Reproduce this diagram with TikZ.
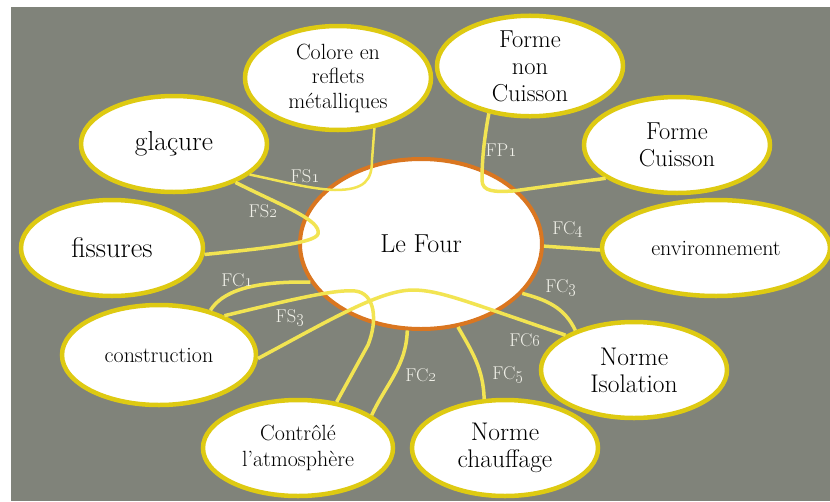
\documentclass[tikz,border=0pt]{standalone}
\usepackage{tikz}
\usetikzlibrary{shapes.geometric, positioning, calc}

\definecolor{bggray}{RGB}{128,131,122}
\definecolor{rimyellow}{RGB}{222,202,18}
\definecolor{linkyellow}{RGB}{242,228,82}
\definecolor{rimorange}{RGB}{218,118,32}
\definecolor{lblwhite}{RGB}{240,240,232}

\tikzset{
	bubble/.style={ellipse, draw=rimyellow, line width=4.5pt, fill=white, inner sep=0pt,
		minimum width=186pt, minimum height=96pt, align=center, text=black},
	link/.style={draw=linkyellow, line width=3.5pt},
	lbl/.style={text=lblwhite, inner sep=0pt, font=\fontsize{18.5}{20}\selectfont}
}

\begin{document}
\begin{tikzpicture}[x=1pt,y=-1pt]
	\useasboundingbox (0,0) rectangle (830,501);
	\fill[white] (0,0) rectangle (830,501);
	\fill[bggray] (11,7) rectangle (830,501);
	
	\node[ellipse, draw=rimorange, line width=4pt, fill=white, minimum width=242pt, minimum height=170pt,
		font=\fontsize{26}{30}\selectfont] (four) at (421,244) {Le Four};
	
	\node[bubble, minimum height=104pt, font=\fontsize{22}{24.5}\selectfont] (colore) at (338,78) {Colore en\\reflets\\métalliques};
	\node[bubble, font=\fontsize{24.5}{27}\selectfont] (formenon) at (530,66) {Forme\\non\\Cuisson};
	\node[bubble, font=\fontsize{24.5}{27}\selectfont] (formecuisson) at (677,145) {Forme\\Cuisson};
	\node[bubble, minimum width=228pt, font=\fontsize{22}{24}\selectfont] (env) at (716,248) {environnement};
	\node[bubble, font=\fontsize{25.5}{27}\selectfont] (isolation) at (634,370) {Norme\\Isolation};
	\node[bubble, font=\fontsize{25.5}{27}\selectfont] (chauffage) at (505,448) {Norme\\chauffage};
	\node[bubble, minimum width=190pt, font=\fontsize{22}{26}\selectfont] (controle) at (298,448) {Contrôlé\\l’atmosphère};
	\node[bubble, minimum width=194pt, minimum height=100pt, font=\fontsize{22}{24}\selectfont] (construction) at (159,355) {construction};
	\node[bubble, minimum width=182pt, font=\fontsize{28.5}{30}\selectfont] (fissures) at (112,248) {fissures};
	\node[bubble, font=\fontsize{27.5}{30}\selectfont] (glacure) at (174,144) {glaçure};
	
	% liaisons
	\draw[link, line width=2.5pt] (glacure.-22) .. controls (285,182) and (310,189) .. (335,190)
		.. controls (365,190) and (372,180) .. (372,160) -- (colore.-54);
	\draw[link] (glacure.-32) .. controls (280,205) and (322,220) .. (318,234)
		.. controls (315,242) and (280,247) .. (fissures.-4);
	\draw[link] (formenon.229) .. controls (484,140) and (482,160) .. (482,180)
		.. controls (482,192) and (495,192) .. (513,191) -- (formecuisson.205);
	\draw[link] (four.-1) -- (env.181);
	\draw[link] (four.-26) to[out=-15,in=115] (isolation.146);
	\draw[link] (construction.41) .. controls (222,292) and (250,281) .. (four.199);
	\draw[link] (construction.31) .. controls (290,300) and (335,289) .. (355,291)
		.. controls (375,293) and (378,320) .. (368,345) -- (controle.50);
	\draw[link] (construction.-2) .. controls (330,320) and (380,290) .. (413,290)
		.. controls (440,290) and (470,303) .. (isolation.153);
	\draw[link] (four.-99) to[out=-92,in=65] (controle.24);
	\draw[link] (four.-66) to[out=-60,in=92] (chauffage.113);
	
	% etiquettes
	\node[lbl] (fs1) at (305,176) {FS\oldstylenums{1}};
	\node[lbl] (fs2) at (263,211) {FS\oldstylenums{2}};
	\node[lbl] (fp1) at (501,150) {FP\oldstylenums{1}};
	\node[lbl] (fc4) at (568,230) {FC\oldstylenums{4}};
	\node[lbl] (fc3) at (561,288) {FC\oldstylenums{3}};
	\node[lbl] (fc1) at (237,280) {FC\oldstylenums{1}};
	\node[lbl] (fs3) at (290,318) {FS\oldstylenums{3}};
	\node[lbl] (fc6) at (525,340) {FC\oldstylenums{6}};
	\node[lbl] (fc2) at (421,375) {FC\oldstylenums{2}};
	\node[lbl] (fc5) at (508,375) {FC\oldstylenums{5}};
\end{tikzpicture}
\end{document}
